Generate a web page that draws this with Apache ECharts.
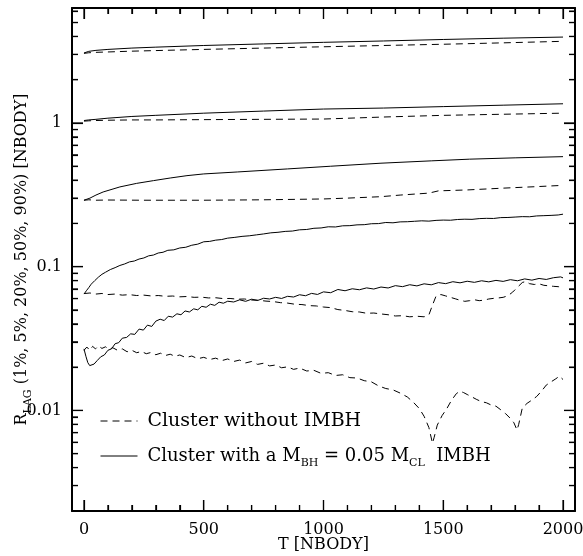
<!DOCTYPE html>
<html><head><meta charset="utf-8">
<script src="https://cdn.jsdelivr.net/npm/echarts@6/dist/echarts.min.js"></script>
<style>html,body{margin:0;padding:0;background:#fff}#c{width:583px;height:556px}</style>
</head><body><div id="c"></div>
<script>
// ---- tick values / labels ----
const xMajorTicks = [0, 500, 1000, 1500, 2000];
const xMinorTicks = [100, 200, 300, 400, 600, 700, 800, 900, 1100, 1200, 1300, 1400, 1600, 1700, 1800, 1900];
const yMajorTicks = [0.01, 0.1, 1];
const yTickLabels = ['0.01', '0.1', '1'];
const yMinorTicks = [0.003, 0.004, 0.005, 0.006, 0.007, 0.008, 0.009,
  0.02, 0.03, 0.04, 0.05, 0.06, 0.07, 0.08, 0.09,
  0.2, 0.3, 0.4, 0.5, 0.6, 0.7, 0.8, 0.9, 2, 3, 4, 5, 6];

// ---- 90% radius ----
const t90 = [0, 20, 50, 100, 200, 300, 500, 750, 1000, 1250, 1500, 1750, 2000];
const r90With = [3.07, 3.15, 3.20, 3.25, 3.32, 3.37, 3.46, 3.55, 3.64, 3.72, 3.81, 3.89, 3.96];
const r90Without = [3.05, 3.08, 3.10, 3.12, 3.16, 3.19, 3.25, 3.32, 3.39, 3.46, 3.53, 3.61, 3.70];

// ---- 50% radius ----
const t50 = [0, 20, 50, 100, 200, 300, 500, 750, 1000, 1250, 1500, 1750, 2000];
const r50With = [1.04, 1.05, 1.06, 1.08, 1.11, 1.13, 1.17, 1.21, 1.25, 1.27, 1.30, 1.33, 1.36];
const r50Without = [1.03, 1.035, 1.04, 1.045, 1.05, 1.05, 1.055, 1.06, 1.065, 1.10, 1.13, 1.15, 1.17];

// ---- 20% radius ----
const t20With = [0, 25, 50, 80, 150, 220, 290, 360, 430, 500, 640, 850, 1030, 1240, 1450, 1610, 1800, 2000];
const r20With = [0.29, 0.30, 0.315, 0.331, 0.359, 0.38, 0.397, 0.414, 0.430, 0.442, 0.456, 0.479, 0.50, 0.525, 0.545, 0.56, 0.572, 0.583];
const t20Without = [0, 20, 50, 100, 250, 500, 750, 1000, 1100, 1240, 1320, 1440, 1480, 1600, 1750, 1880, 2000];
const r20Without = [0.29, 0.292, 0.29, 0.291, 0.29, 0.29, 0.292, 0.296, 0.30, 0.307, 0.315, 0.325, 0.337, 0.342, 0.352, 0.36, 0.368];

// ---- 5% radius ----
const t5With = [0, 10, 20, 30, 45, 60, 75, 90, 110, 130, 150, 170, 190, 210, 230, 250, 270, 290, 310, 330, 350, 375, 400, 425, 450, 475, 500, 525, 550, 575, 600, 630, 660, 690, 720, 750, 780, 810, 840, 870, 900, 930, 960, 990, 1020, 1050, 1080, 1110, 1140, 1170, 1200, 1230, 1260, 1290, 1320, 1350, 1380, 1410, 1440, 1470, 1500, 1530, 1560, 1590, 1620, 1650, 1680, 1710, 1740, 1770, 1800, 1830, 1860, 1890, 1920, 1950, 1980, 2000];
const r5With = [0.0645, 0.068, 0.0715, 0.0755, 0.080, 0.0845, 0.0885, 0.0915, 0.0955, 0.0985, 0.1020, 0.1045, 0.1080, 0.1095, 0.1130, 0.1150, 0.1190, 0.1205, 0.1245, 0.1260, 0.1300, 0.1310, 0.1350, 0.1365, 0.1410, 0.1435, 0.1490, 0.1500, 0.1530, 0.1545, 0.1580, 0.1600, 0.1625, 0.1640, 0.1665, 0.1690, 0.1720, 0.1735, 0.1760, 0.1770, 0.1805, 0.1815, 0.1850, 0.1860, 0.1895, 0.1890, 0.1925, 0.1930, 0.1955, 0.1960, 0.1990, 0.1995, 0.2030, 0.2020, 0.2050, 0.2055, 0.2070, 0.2085, 0.2075, 0.2100, 0.2110, 0.2105, 0.2130, 0.2140, 0.2135, 0.2160, 0.2170, 0.2165, 0.2195, 0.2200, 0.2215, 0.2230, 0.2225, 0.2255, 0.2265, 0.2275, 0.2290, 0.2320];
const t5Without = [0, 25, 50, 75, 100, 130, 160, 190, 220, 250, 280, 310, 340, 370, 400, 430, 460, 490, 520, 550, 580, 610, 640, 670, 700, 730, 760, 790, 820, 850, 880, 910, 940, 970, 1000, 1030, 1060, 1090, 1120, 1150, 1180, 1210, 1240, 1270, 1300, 1330, 1360, 1390, 1420, 1440, 1455, 1470, 1490, 1510, 1530, 1550, 1570, 1590, 1610, 1630, 1650, 1670, 1690, 1710, 1730, 1750, 1770, 1790, 1810, 1830, 1845, 1860, 1880, 1900, 1920, 1940, 1960, 1980, 2000];
const r5Without = [0.0650, 0.0656, 0.0645, 0.0651, 0.0640, 0.0645, 0.0634, 0.0639, 0.0630, 0.0634, 0.0626, 0.0630, 0.0622, 0.0625, 0.0617, 0.0620, 0.0612, 0.0614, 0.0606, 0.0608, 0.0600, 0.0601, 0.0594, 0.0596, 0.0586, 0.0584, 0.0576, 0.0572, 0.0562, 0.0558, 0.0548, 0.0545, 0.0536, 0.0533, 0.0524, 0.0519, 0.0503, 0.0496, 0.0486, 0.0484, 0.0474, 0.0476, 0.0469, 0.0463, 0.0454, 0.0456, 0.0448, 0.0452, 0.0448, 0.0462, 0.0540, 0.0625, 0.0640, 0.0626, 0.0612, 0.0598, 0.0584, 0.0574, 0.0580, 0.0589, 0.0580, 0.0585, 0.0596, 0.0602, 0.0606, 0.0612, 0.0628, 0.0666, 0.0720, 0.0776, 0.0790, 0.0762, 0.0752, 0.0760, 0.0742, 0.0736, 0.0730, 0.0726, 0.0718];

// ---- 1% radius ----
const t1With = [0, 8, 16, 24, 32, 42, 55, 70, 85, 100, 115, 130, 145, 160, 178, 195, 212, 230, 248, 265, 283, 300, 318, 335, 352, 370, 388, 405, 422, 440, 458, 475, 492, 510, 528, 546, 564, 582, 600, 625, 650, 675, 700, 725, 750, 775, 800, 825, 850, 875, 900, 925, 950, 975, 1000, 1030, 1060, 1090, 1120, 1150, 1180, 1210, 1240, 1270, 1300, 1330, 1360, 1390, 1420, 1450, 1480, 1510, 1540, 1570, 1600, 1630, 1660, 1690, 1720, 1750, 1780, 1810, 1840, 1870, 1900, 1930, 1960, 1990, 2000];
const r1With = [0.0268, 0.0238, 0.0215, 0.0205, 0.0202, 0.0210, 0.0222, 0.0236, 0.0243, 0.0262, 0.0268, 0.0291, 0.0296, 0.0318, 0.0322, 0.0341, 0.0338, 0.0368, 0.0362, 0.0392, 0.0384, 0.0418, 0.0431, 0.0422, 0.0452, 0.0446, 0.0470, 0.0463, 0.0492, 0.0484, 0.0509, 0.0501, 0.0530, 0.0522, 0.0548, 0.0538, 0.0566, 0.0557, 0.0575, 0.0568, 0.0588, 0.0574, 0.0594, 0.0582, 0.0603, 0.0596, 0.0612, 0.0601, 0.0622, 0.0615, 0.0638, 0.0628, 0.0652, 0.0641, 0.0668, 0.0659, 0.0694, 0.0680, 0.0702, 0.0691, 0.0712, 0.0699, 0.0722, 0.0711, 0.0738, 0.0726, 0.0749, 0.0735, 0.0760, 0.0748, 0.0775, 0.0762, 0.0786, 0.0772, 0.0792, 0.0778, 0.0798, 0.0784, 0.0803, 0.0790, 0.0812, 0.0798, 0.0822, 0.0806, 0.0828, 0.0815, 0.0838, 0.0849, 0.0836];
const t1Without = [0, 12, 24, 36, 48, 60, 75, 90, 105, 120, 140, 160, 180, 200, 220, 240, 260, 280, 300, 320, 340, 360, 380, 400, 425, 450, 475, 500, 525, 550, 575, 600, 625, 650, 675, 700, 725, 750, 775, 800, 825, 850, 875, 900, 930, 960, 990, 1020, 1050, 1080, 1110, 1140, 1170, 1200, 1230, 1260, 1290, 1320, 1350, 1375, 1400, 1420, 1440, 1455, 1462, 1475, 1495, 1515, 1535, 1555, 1570, 1585, 1600, 1620, 1640, 1660, 1680, 1700, 1720, 1740, 1760, 1780, 1795, 1808, 1815, 1830, 1850, 1870, 1890, 1910, 1930, 1950, 1970, 1985, 2000];
const r1Without = [0.0262, 0.0276, 0.0262, 0.0279, 0.0268, 0.0281, 0.0270, 0.0277, 0.0266, 0.0273, 0.0262, 0.0268, 0.0256, 0.0262, 0.0252, 0.0257, 0.0248, 0.0253, 0.0244, 0.0250, 0.0241, 0.0246, 0.0238, 0.0243, 0.0233, 0.0239, 0.0229, 0.0234, 0.0226, 0.0231, 0.0222, 0.0228, 0.0219, 0.0224, 0.0214, 0.0219, 0.0209, 0.0213, 0.0204, 0.0207, 0.0198, 0.0201, 0.0193, 0.0197, 0.0188, 0.0190, 0.0181, 0.0183, 0.0175, 0.0177, 0.0169, 0.0168, 0.0161, 0.0158, 0.0148, 0.0142, 0.0139, 0.0132, 0.0124, 0.0114, 0.0103, 0.0091, 0.0076, 0.0059, 0.0065, 0.0079, 0.0092, 0.0103, 0.0118, 0.0131, 0.0136, 0.0133, 0.0129, 0.0124, 0.0119, 0.0115, 0.0113, 0.0109, 0.0107, 0.0101, 0.0095, 0.0088, 0.0082, 0.0073, 0.0080, 0.0104, 0.0112, 0.0118, 0.0125, 0.0136, 0.0150, 0.0158, 0.0166, 0.0173, 0.0164];

const NAME_WITHOUT = 'Cluster without IMBH';
const NAME_WITH = 'Cluster with IMBH';

const FONT = 'DejaVu Serif';
const lg = Math.log10;
const X_MIN = -50, X_MAX = 2050;
const Y_MIN = -2.7, Y_MAX = 0.8;
const MAJOR_LEN = 11, MINOR_LEN = 6, TICK_W = 1.2;

function mk(name, t, r, dashed) {
  return {
    type: 'line', name: name, xAxisIndex: 0, yAxisIndex: 0,
    data: t.map((x, i) => [x, lg(r[i])]),
    symbol: 'none', silent: true, animation: false,
    lineStyle: { color: '#000', width: 1, type: dashed ? [7, 5] : 'solid' },
    itemStyle: { color: '#000' }
  };
}

const series = [
  mk(NAME_WITHOUT, t90, r90Without, true),
  mk(NAME_WITH, t90, r90With, false),
  mk(NAME_WITHOUT, t50, r50Without, true),
  mk(NAME_WITH, t50, r50With, false),
  mk(NAME_WITHOUT, t20Without, r20Without, true),
  mk(NAME_WITH, t20With, r20With, false),
  mk(NAME_WITHOUT, t5Without, r5Without, true),
  mk(NAME_WITH, t5With, r5With, false),
  mk(NAME_WITHOUT, t1Without, r1Without, true),
  mk(NAME_WITH, t1With, r1With, false)
];

// Frame tick marks as small rect symbols placed through the axes' scales (inside the frame)
function yTickItems(vals, len) {
  const out = [];
  vals.forEach(function (v) {
    out.push({ value: [X_MIN, lg(v)], symbolSize: [len, TICK_W], symbolOffset: [len / 2, 0] });
    out.push({ value: [X_MAX, lg(v)], symbolSize: [len, TICK_W], symbolOffset: [-len / 2, 0] });
  });
  return out;
}
function xTickItems(vals, len) {
  const out = [];
  vals.forEach(function (v) {
    out.push({ value: [v, Y_MIN], symbolSize: [TICK_W, len], symbolOffset: [0, -len / 2] });
    out.push({ value: [v, Y_MAX], symbolSize: [TICK_W, len], symbolOffset: [0, len / 2] });
  });
  return out;
}
series.push({
  type: 'scatter', name: 'frame ticks', silent: true, animation: false, clip: false,
  xAxisIndex: 0, yAxisIndex: 0, symbol: 'rect', z: 3,
  itemStyle: { color: '#000', opacity: 1 },
  emphasis: { disabled: true },
  data: yTickItems(yMajorTicks, MAJOR_LEN).concat(yTickItems(yMinorTicks, MINOR_LEN))
    .concat(xTickItems(xMajorTicks, MAJOR_LEN)).concat(xTickItems(xMinorTicks, MINOR_LEN))
});

function axLine(show) {
  return { show: show, onZero: false, lineStyle: { color: '#000', width: 2 } };
}
function tickCfg(vals, len) {
  return { show: true, inside: true, length: len, customValues: vals, lineStyle: { color: '#000', width: TICK_W } };
}

const option = {
  backgroundColor: '#fff',
  animation: false,
  grid: { left: 72, top: 8, width: 503, height: 503, outerBoundsMode: 'none' },
  xAxis: [
    {
      type: 'value', position: 'bottom', min: X_MIN, max: X_MAX,
      axisLine: axLine(true), splitLine: { show: false }, axisTick: tickCfg(xMajorTicks, MAJOR_LEN),
      axisLabel: {
        show: true, customValues: xMajorTicks, margin: 11, color: '#000', fontFamily: FONT, fontSize: 16,
        formatter: function (v) { return String(Math.round(v)); }
      },
      name: 'T [NBODY]', nameLocation: 'middle', nameGap: 26, nameMoveOverlap: false,
      nameTextStyle: { fontFamily: FONT, fontSize: 16, color: '#000' }
    },
    {
      type: 'value', position: 'bottom', min: X_MIN, max: X_MAX,
      axisLine: axLine(false), splitLine: { show: false }, axisTick: tickCfg(xMinorTicks, MINOR_LEN), axisLabel: { show: false }
    },
    {
      type: 'value', position: 'top', min: X_MIN, max: X_MAX,
      axisLine: axLine(true), splitLine: { show: false }, axisTick: tickCfg(xMajorTicks, MAJOR_LEN), axisLabel: { show: false }
    },
    {
      type: 'value', position: 'top', min: X_MIN, max: X_MAX,
      axisLine: axLine(false), splitLine: { show: false }, axisTick: tickCfg(xMinorTicks, MINOR_LEN), axisLabel: { show: false }
    }
  ],
  yAxis: [
    {
      type: 'value', position: 'left', min: Y_MIN, max: Y_MAX,
      axisLine: axLine(true), splitLine: { show: false }, axisTick: tickCfg(yMajorTicks.map(lg), MAJOR_LEN),
      axisLabel: {
        show: true, customValues: yMajorTicks.map(lg), margin: 10, color: '#000', fontFamily: FONT, fontSize: 16,
        formatter: function (v) { const i = Math.round(v) + 2; return yTickLabels[i] || ''; }
      },
      name: '{r|R}{s|LAG}{r| (1%, 5%, 20%, 50%, 90%) [NBODY]}',
      nameLocation: 'middle', nameGap: 42, nameMoveOverlap: false,
      nameTextStyle: {
        fontFamily: FONT, fontSize: 16, color: '#000',
        rich: {
          r: { fontFamily: FONT, fontSize: 16, color: '#000', lineHeight: 16, verticalAlign: 'top' },
          s: { fontFamily: FONT, fontSize: 11, color: '#000', lineHeight: 11, verticalAlign: 'top', padding: [9, 0, 0, 0] }
        }
      }
    },
    {
      type: 'value', position: 'left', min: Y_MIN, max: Y_MAX,
      axisLine: axLine(false), splitLine: { show: false }, axisTick: tickCfg(yMinorTicks.map(lg), MINOR_LEN), axisLabel: { show: false }
    },
    {
      type: 'value', position: 'right', min: Y_MIN, max: Y_MAX,
      axisLine: axLine(true), splitLine: { show: false }, axisTick: tickCfg(yMajorTicks.map(lg), MAJOR_LEN), axisLabel: { show: false }
    },
    {
      type: 'value', position: 'right', min: Y_MIN, max: Y_MAX,
      axisLine: axLine(false), splitLine: { show: false }, axisTick: tickCfg(yMinorTicks.map(lg), MINOR_LEN), axisLabel: { show: false }
    }
  ],
  legend: [
    {
      orient: 'vertical', left: 100, top: 412, padding: 0, itemWidth: 37, itemHeight: 14,
      selectedMode: false, data: [NAME_WITHOUT],
      lineStyle: { width: 1 },
      itemStyle: { color: 'rgba(0,0,0,0)', borderColor: 'rgba(0,0,0,0)', borderWidth: 0 },
      textStyle: {
        fontFamily: FONT, fontSize: 19, color: '#000', padding: [0, 0, 0, 5],
        rich: { r: { fontFamily: FONT, fontSize: 19, color: '#000', lineHeight: 18, verticalAlign: 'top' } }
      },
      formatter: function () { return '{r|Cluster without IMBH}'; }
    },
    {
      orient: 'vertical', left: 100, top: 447, padding: 0, itemWidth: 37, itemHeight: 14,
      selectedMode: false, data: [NAME_WITH],
      lineStyle: { width: 1 },
      itemStyle: { color: 'rgba(0,0,0,0)', borderColor: 'rgba(0,0,0,0)', borderWidth: 0 },
      textStyle: {
        fontFamily: FONT, fontSize: 18, color: '#000', padding: [0, 0, 0, 5],
        rich: {
          r: { fontFamily: FONT, fontSize: 18, color: '#000', lineHeight: 18, verticalAlign: 'top' },
          s: { fontFamily: FONT, fontSize: 11, color: '#000', lineHeight: 11, verticalAlign: 'top', padding: [11, 0, 0, 0] }
        }
      },
      formatter: function () { return '{r|Cluster with a M}{s|BH}{r| = 0.05 M}{s|CL}{r|  IMBH}'; }
    }
  ],
  series: series
};

const chart = echarts.init(document.getElementById('c'), null, { renderer: 'canvas' });
chart.setOption(option);
</script>
</body></html>
